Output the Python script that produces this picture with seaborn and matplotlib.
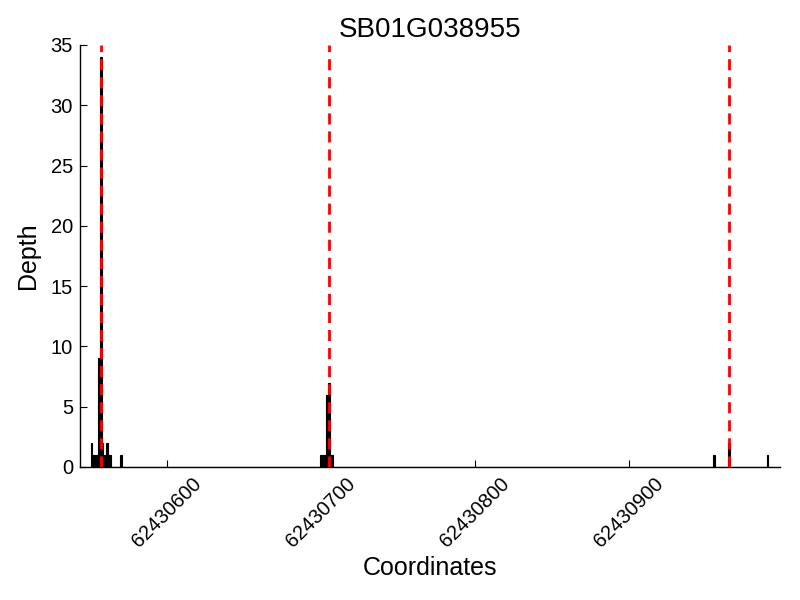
import matplotlib
matplotlib.use("Agg")
import matplotlib.pyplot as plt
import seaborn as sns
import pandas as pd

# Read coverage (depth per coordinate) around gene SB01G038955
coords = [62430551, 62430552, 62430553, 62430554, 62430555, 62430556, 62430557,
          62430558, 62430559, 62430560, 62430561, 62430562, 62430563, 62430570,
          62430700, 62430701, 62430702, 62430703, 62430704, 62430705, 62430706,
          62430707, 62430955, 62430965, 62430990]
depths = [2, 1, 1, 1, 1, 9, 34,
          2, 1, 1, 2, 1, 1, 1,
          1, 1, 1, 1, 6, 7, 1,
          1, 1, 2, 1]
# Feature boundaries (red dashed lines)
boundaries = [62430557, 62430705, 62430965]
x_ticks = [62430600, 62430700, 62430800, 62430900]
y_ticks = [0, 5, 10, 15, 20, 25, 30, 35]
title = "SB01G038955"

sns.set_style("white")
plt.rcParams['font.family'] = ['Liberation Sans', 'DejaVu Sans']
plt.rcParams.update({"text.color": "black", "axes.labelcolor": "black",
                     "xtick.color": "black", "ytick.color": "black"})

df = pd.DataFrame({"Coordinates": coords, "Depth": depths})

fig = plt.figure(figsize=(8, 6), dpi=100)
ax = fig.add_axes([0.1, 1 - 467 / 600, 0.875, (467 - 45) / 600])

sns.histplot(data=df, x="Coordinates", weights="Depth", discrete=True,
             color="black", edgecolor="black", linewidth=0.8, alpha=1, ax=ax)

for b in boundaries:
    ax.axvline(b, color="red", linestyle=(0, (4, 2.5)), linewidth=2, zorder=5)

ax.set_xlim(62430543.5, 62430998)
ax.set_ylim(0, 35)
ax.set_xticks(x_ticks)
ax.set_xticklabels([str(t) for t in x_ticks], rotation=45, fontsize=14.5)
ax.set_yticks(y_ticks)
ax.set_yticklabels([str(t) for t in y_ticks], fontsize=14.5)
ax.tick_params(direction="in", length=5, width=0.8, color="black", pad=5,
               labelcolor="black",
               bottom=True, left=True, top=False, right=False)
for s in ["top", "right"]:
    ax.spines[s].set_visible(False)
for s in ["left", "bottom"]:
    ax.spines[s].set_color("black")
    ax.spines[s].set_linewidth(1)
ax.set_xlabel("Coordinates", fontsize=18, color="black")
ax.set_ylabel("Depth", fontsize=18, color="black", labelpad=8)
ax.set_title(title, fontsize=20, color="black")

fig.savefig("out.png", dpi=100)
